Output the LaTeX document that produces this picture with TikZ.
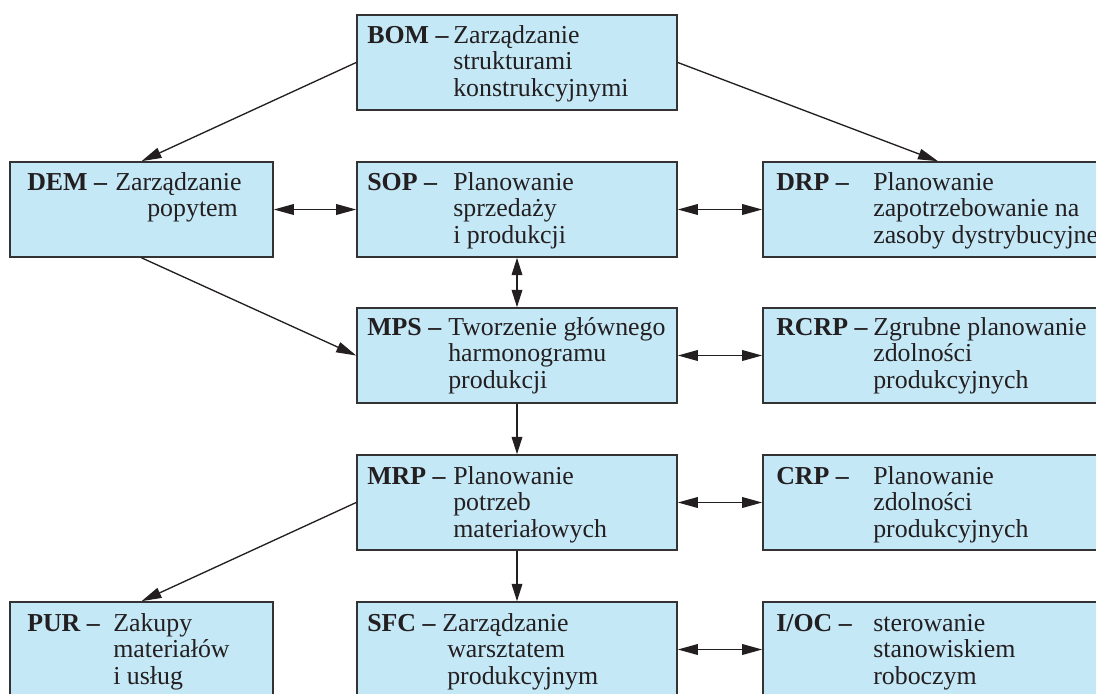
\documentclass[tikz,border=0pt]{standalone}
\usepackage{fontspec}
\setmainfont{Liberation Serif}
\usetikzlibrary{arrows.meta}
\definecolor{boxfill}{HTML}{C5E8F7}
\definecolor{boxline}{HTML}{333333}
\definecolor{ink}{HTML}{231F20}
\tikzset{
  box/.style={draw=boxline, fill=boxfill, line width=1.2pt, inner sep=0pt,
    minimum height=71.25pt},
  colL/.style={box, minimum width=197.25pt},
  colM/.style={box, minimum width=240pt},
  colR/.style={box, minimum width=262.5pt},
  txt/.style={anchor=base west, inner sep=0pt, text=ink,
    font=\fontsize{19.4pt}{19.5pt}\selectfont},
  key/.style={txt, font=\fontsize{19.4pt}{19.5pt}\selectfont\bfseries},
  tipH/.tip={Triangle[length=15pt,width=8pt]},
  tipV/.tip={Triangle[length=13pt,width=8pt]},
  link/.style={draw=ink, line width=1pt, -tipH},
  both/.style={draw=ink, line width=1pt, tipH-tipH},
  bothv/.style={draw=ink, line width=1pt, tipV-tipV},
  linkv/.style={draw=ink, line width=1pt, -tipV}
}
\begin{document}
\begin{tikzpicture}[x=0.75pt,y=-0.75pt]
\clip (0,0) rectangle (1096,693);
\useasboundingbox (0,0) rectangle (1096,693);

% boxes
\node[colM] (bom)  at (517,62.5)  {};
\node[colL] (dem)  at (141.5,209.5) {};
\node[colM] (sop)  at (517,209.5) {};
\node[colR] (drp)  at (938,209.5) {};
\node[colM] (mps)  at (517,355.5) {};
\node[colR] (rcrp) at (938,355.5) {};
\node[colM] (mrp)  at (517,502.5) {};
\node[colR] (crp)  at (938,502.5) {};
\node[colL] (pur)  at (141.5,649.5) {};
\node[colM] (sfc)  at (517,649.5) {};
\node[colR] (ioc)  at (938,649.5) {};

% BOM
\node[key] (bom-k)  at (367,43) {BOM –};
\node[txt] (bom-1)  at (453,43) {Zarządzanie};
\node[txt] (bom-2)  at (453,69.5) {strukturami};
\node[txt] (bom-3)  at (453,96) {konstrukcyjnymi};
% DEM
\node[key] (dem-k)  at (27,190) {DEM –};
\node[txt] (dem-1)  at (115,190) {Zarządzanie};
\node[txt] (dem-2)  at (147,216.5) {popytem};
% SOP
\node[key] (sop-k)  at (367,190) {SOP –};
\node[txt] (sop-1)  at (453,190) {Planowanie};
\node[txt] (sop-2)  at (453,216.5) {sprzedaży};
\node[txt] (sop-3)  at (453,243) {i produkcji};
% DRP
\node[key] (drp-k)  at (776,190) {DRP –};
\node[txt] (drp-1)  at (873,190) {Planowanie};
\node[txt] (drp-2)  at (873,216.5) {zapotrzebowanie na};
\node[txt] (drp-3)  at (873,243) {zasoby dystrybucyjne};
% MPS
\node[key] (mps-k)  at (367,335) {MPS –};
\node[txt] (mps-1)  at (448,335) {Tworzenie głównego};
\node[txt] (mps-2)  at (448,361.5) {harmonogramu};
\node[txt] (mps-3)  at (448,388) {produkcji};
% RCRP
\node[key] (rcrp-k) at (776,335) {RCRP –};
\node[txt] (rcrp-1) at (873,335) {Zgrubne planowanie};
\node[txt] (rcrp-2) at (873,361.5) {zdolności};
\node[txt] (rcrp-3) at (873,388) {produkcyjnych};
% MRP
\node[key] (mrp-k)  at (367,484) {MRP –};
\node[txt] (mrp-1)  at (453,484) {Planowanie};
\node[txt] (mrp-2)  at (453,510.5) {potrzeb};
\node[txt] (mrp-3)  at (453,537) {materiałowych};
% CRP
\node[key] (crp-k)  at (776,484) {CRP –};
\node[txt] (crp-1)  at (873,484) {Planowanie};
\node[txt] (crp-2)  at (873,510.5) {zdolności};
\node[txt] (crp-3)  at (873,537) {produkcyjnych};
% PUR
\node[key] (pur-k)  at (27,631) {PUR –};
\node[txt] (pur-1)  at (113,631) {Zakupy};
\node[txt] (pur-2)  at (113,657.5) {materiałów};
\node[txt] (pur-3)  at (113,684) {i usług};
% SFC
\node[key] (sfc-k)  at (367,631) {SFC –};
\node[txt] (sfc-1)  at (442,631) {Zarządzanie};
\node[txt] (sfc-2)  at (447,657.5) {warsztatem};
\node[txt] (sfc-3)  at (447,684) {produkcyjnym};
% I/OC
\node[key] (ioc-k)  at (776,631) {I/OC –};
\node[txt] (ioc-1)  at (873,631) {sterowanie};
\node[txt] (ioc-2)  at (873,657.5) {stanowiskiem};
\node[txt] (ioc-3)  at (873,684) {roboczym};

% connectors
\draw[link] (bom.west) -- (dem.north);
\draw[link] (bom.east) -- (drp.north);
\draw[link] (dem.south) -- (mps.west);
\draw[link] (mrp.west) -- (pur.north);
\draw[both] (dem.east) -- (sop.west);
\draw[both] (sop.east) -- (drp.west);
\draw[both] (mps.east) -- (rcrp.west);
\draw[both] (mrp.east) -- (crp.west);
\draw[both] (sfc.east) -- (ioc.west);
\draw[bothv] (sop.south) -- (mps.north);
\draw[linkv] (mps.south) -- (mrp.north);
\draw[linkv] (mrp.south) -- (sfc.north);
\end{tikzpicture}
\end{document}
